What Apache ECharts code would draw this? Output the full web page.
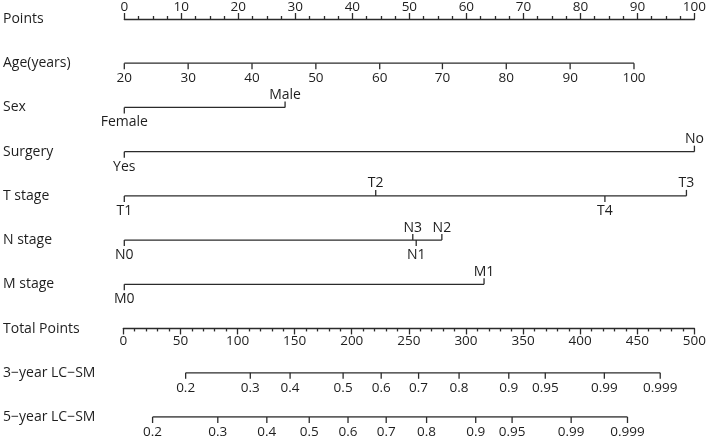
<!DOCTYPE html>
<html>
<head>
<meta charset="utf-8">
<script src="https://cdn.jsdelivr.net/npm/echarts@6/dist/echarts.min.js"></script>
<style>html,body{margin:0;padding:0;background:#fff}#c{width:709px;height:438px}</style>
</head>
<body>
<div id="c"></div>
<script>
// ---- data ----
const rowNames = ['Points','Age(years)','Sex','Surgery','T stage','N stage','M stage','Total Points','3\u2212year LC\u2212SM','5\u2212year LC\u2212SM'];

const ageLabels = ['20','30','40','50','60','70','80','90','100'];
const agePoints = [0, 11.2, 22.4, 33.6, 44.8, 55.8, 67.0, 78.2, 89.4];

const sexLabels = ['Female','Male'];
const sexPoints = [0, 28.2];
const sexSides  = ['below','above'];

const surgeryLabels = ['Yes','No'];
const surgeryPoints = [0, 100];
const surgerySides  = ['below','above'];

const tLabels = ['T1','T2','T3','T4'];
const tPoints = [0, 44.1, 98.6, 84.3];
const tSides  = ['below','above','above','below'];

const nLabels = ['N0','N1','N2','N3'];
const nPoints = [0, 51.2, 55.7, 50.6];
const nSides  = ['below','below','above','above'];

const mLabels = ['M0','M1'];
const mPoints = [0, 63.1];
const mSides  = ['below','above'];

const probLabels = ['0.2','0.3','0.4','0.5','0.6','0.7','0.8','0.9','0.95','0.99','0.999'];
const prob3Total = [53.8, 110.5, 145.4, 191.9, 225.3, 258.1, 293.6, 337.2, 369.2, 421.0, 470.0];
const prob5Total = [24.8, 82.0, 125.0, 162.2, 196.2, 229.7, 265.1, 308.2, 340.1, 391.9, 441.3];

const pointsMax = 100;
const totalMax = 500;

// ---- styles ----
const LINE = '#2b2b2b';
const TEXT = '#1e1e1e';
const FONT = '"Open Sans", sans-serif';
const TICK = 6;
const LW = 1.3;

function sidesAll(n, s){ return new Array(n).fill(s); }

function axisLine(row, lo, hi, xAxisIndex){
  return {
    type:'line', xAxisIndex, yAxisIndex:0, symbol:'none', silent:true,
    lineStyle:{color:LINE, width:LW},
    data:[[lo,row],[hi,row]]
  };
}

function tickSeries(row, points, labels, sides, xAxisIndex, fontSize){
  return {
    type:'custom', xAxisIndex, yAxisIndex:0, silent:true,
    data: points.map(p => [p,row]),
    renderItem:(params, api) => {
      const pt = api.coord([api.value(0), api.value(1)]);
      const up = sides[params.dataIndex] === 'above';
      const dir = up ? -1 : 1;
      return {type:'group', children:[
        {type:'line', shape:{x1:pt[0], y1:pt[1], x2:pt[0], y2:pt[1]+dir*TICK},
         style:{stroke:LINE, lineWidth:LW}},
        {type:'text', style:{text:labels[params.dataIndex], x:pt[0],
          y: up ? pt[1]-12.5 : pt[1]+15, align:'center', verticalAlign:'middle',
          fill:TEXT, fontSize:fontSize, fontFamily:FONT}}
      ]};
    }
  };
}

const series = [
  axisLine(1, agePoints[0], agePoints[agePoints.length-1], 0),
  tickSeries(1, agePoints, ageLabels, sidesAll(ageLabels.length,'below'), 0, 13.5),
  axisLine(2, Math.min(...sexPoints), Math.max(...sexPoints), 0),
  tickSeries(2, sexPoints, sexLabels, sexSides, 0, 14),
  axisLine(3, Math.min(...surgeryPoints), Math.max(...surgeryPoints), 0),
  tickSeries(3, surgeryPoints, surgeryLabels, surgerySides, 0, 14),
  axisLine(4, Math.min(...tPoints), Math.max(...tPoints), 0),
  tickSeries(4, tPoints, tLabels, tSides, 0, 14),
  axisLine(5, Math.min(...nPoints), Math.max(...nPoints), 0),
  tickSeries(5, nPoints, nLabels, nSides, 0, 14),
  axisLine(6, Math.min(...mPoints), Math.max(...mPoints), 0),
  tickSeries(6, mPoints, mLabels, mSides, 0, 14),
  axisLine(8, prob3Total[0], prob3Total[prob3Total.length-1], 2),
  tickSeries(8, prob3Total, probLabels, sidesAll(probLabels.length,'below'), 2, 13.5),
  axisLine(9, prob5Total[0], prob5Total[prob5Total.length-1], 2),
  tickSeries(9, prob5Total, probLabels, sidesAll(probLabels.length,'below'), 2, 13.5)
];

const GL = 123.3, GR = 12.3, TOP = 18.5, BOT = 21;
const rowGap = (438 - TOP - BOT) / (rowNames.length - 1);
const totalRowY = TOP + rowGap * 7;

const chart = echarts.init(document.getElementById('c'), null, {renderer:'canvas'});
chart.setOption({
  animation:false,
  backgroundColor:'#fff',
  grid:[
    {left:GL, right:GR, top:TOP, bottom:BOT},
    {left:GL, right:GR, top:totalRowY-1, height:1}
  ],
  xAxis:[
    {type:'value', gridIndex:0, position:'top', min:0, max:pointsMax, interval:10,
     axisLine:{show:true, lineStyle:{color:LINE, width:LW}},
     axisTick:{show:true, length:6, lineStyle:{color:LINE, width:LW}},
     minorTick:{show:true, splitNumber:4, length:3, lineStyle:{color:LINE, width:LW}},
     splitLine:{show:false},
     axisLabel:{margin:5, fontSize:13.5, color:TEXT, fontFamily:FONT}},
    {type:'value', gridIndex:1, position:'bottom', min:0, max:totalMax, interval:50,
     axisLine:{show:true, lineStyle:{color:LINE, width:LW}},
     axisTick:{show:true, length:6, lineStyle:{color:LINE, width:LW}},
     minorTick:{show:true, splitNumber:5, length:3, lineStyle:{color:LINE, width:LW}},
     splitLine:{show:false},
     axisLabel:{margin:6, fontSize:13.5, color:TEXT, fontFamily:FONT}},
    {type:'value', gridIndex:0, position:'bottom', min:0, max:totalMax, show:false,
     splitLine:{show:false}}
  ],
  yAxis:[
    {type:'category', gridIndex:0, data:rowNames, inverse:true, boundaryGap:false,
     axisLine:{show:false}, axisTick:{show:false}, splitLine:{show:false},
     axisLabel:{align:'left', margin:GL-2, fontSize:14, color:TEXT, fontFamily:FONT}},
    {type:'value', gridIndex:1, show:false, splitLine:{show:false}}
  ],
  series: series
});
</script>
</body>
</html>
